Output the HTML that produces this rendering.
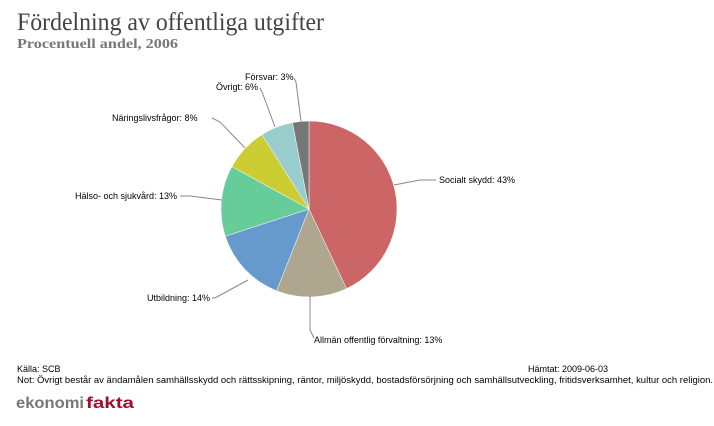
<!DOCTYPE html>
<html><head><meta charset="utf-8"><style>
body{margin:0;background:#fff;width:714px;height:426px;overflow:hidden}
svg{display:block}
</style></head><body>
<svg width="714" height="426" xmlns="http://www.w3.org/2000/svg">
<text x="17" y="30" font-family="Liberation Serif, serif" font-size="25" fill="#444" textLength="307" lengthAdjust="spacingAndGlyphs">Fördelning av offentliga utgifter</text>
<text x="17" y="48" font-family="Liberation Serif, serif" font-size="14" font-weight="bold" fill="#777" textLength="161" lengthAdjust="spacingAndGlyphs">Procentuell andel, 2006</text>
<g stroke="#fff" stroke-width="0.5">
<path d="M309,209 L309,121 A88,88 0 0 1 346.5,288.6 Z" fill="#cc6666"/>
<path d="M309,209 L346.5,288.6 A88,88 0 0 1 276.6,290.8 Z" fill="#aea68f"/>
<path d="M309,209 L276.6,290.8 A88,88 0 0 1 225.3,236.2 Z" fill="#6699cc"/>
<path d="M309,209 L225.3,236.2 A88,88 0 0 1 231.9,166.6 Z" fill="#66cc99"/>
<path d="M309,209 L231.9,166.6 A88,88 0 0 1 261.9,134.7 Z" fill="#cccc33"/>
<path d="M309,209 L261.9,134.7 A88,88 0 0 1 292.5,122.6 Z" fill="#99cccc"/>
<path d="M309,209 L292.5,122.6 A88,88 0 0 1 309,121 Z" fill="#777"/>
</g>
<g stroke="#888" stroke-width="1" fill="none">
<polyline points="394,185 420,180 436,180"/>
<polyline points="310,296 310,330 314,338"/>
<polyline points="248,280 215,298 212,298"/>
<polyline points="222,200 190,196 180,196"/>
<polyline points="245,148 220,122 212,118"/>
<polyline points="275,127 262,92 260,88"/>
<polyline points="301,121 296,82 294,78"/>
</g>
<g font-family="Liberation Sans, sans-serif" font-size="9" fill="#000">
<text x="439" y="183">Socialt skydd: 43%</text>
<text x="314" y="343">Allmän offentlig förvaltning: 13%</text>
<text x="147" y="301">Utbildning: 14%</text>
<text x="75" y="199">Hälso- och sjukvård: 13%</text>
<text x="112" y="121">Näringslivsfrågor: 8%</text>
<text x="216" y="90">Övrigt: 6%</text>
<text x="245" y="80">Försvar: 3%</text>
<text x="17" y="372">Källa: SCB</text>
<text x="528" y="372">Hämtat: 2009-06-03</text>
<text x="17" y="383" textLength="696" lengthAdjust="spacingAndGlyphs">Not: Övrigt består av ändamålen samhällsskydd och rättsskipning, räntor, miljöskydd, bostadsförsörjning och samhällsutveckling, fritidsverksamhet, kultur och religion.</text>
</g>
<text x="16" y="408" font-family="Liberation Sans, sans-serif" font-size="16" font-weight="bold" fill="#777" textLength="68" lengthAdjust="spacingAndGlyphs">ekonomi</text>
<text x="86" y="408" font-family="Liberation Sans, sans-serif" font-size="16" font-weight="bold" fill="#a0102a" textLength="48" lengthAdjust="spacingAndGlyphs">fakta</text>
</svg>
</body></html>
